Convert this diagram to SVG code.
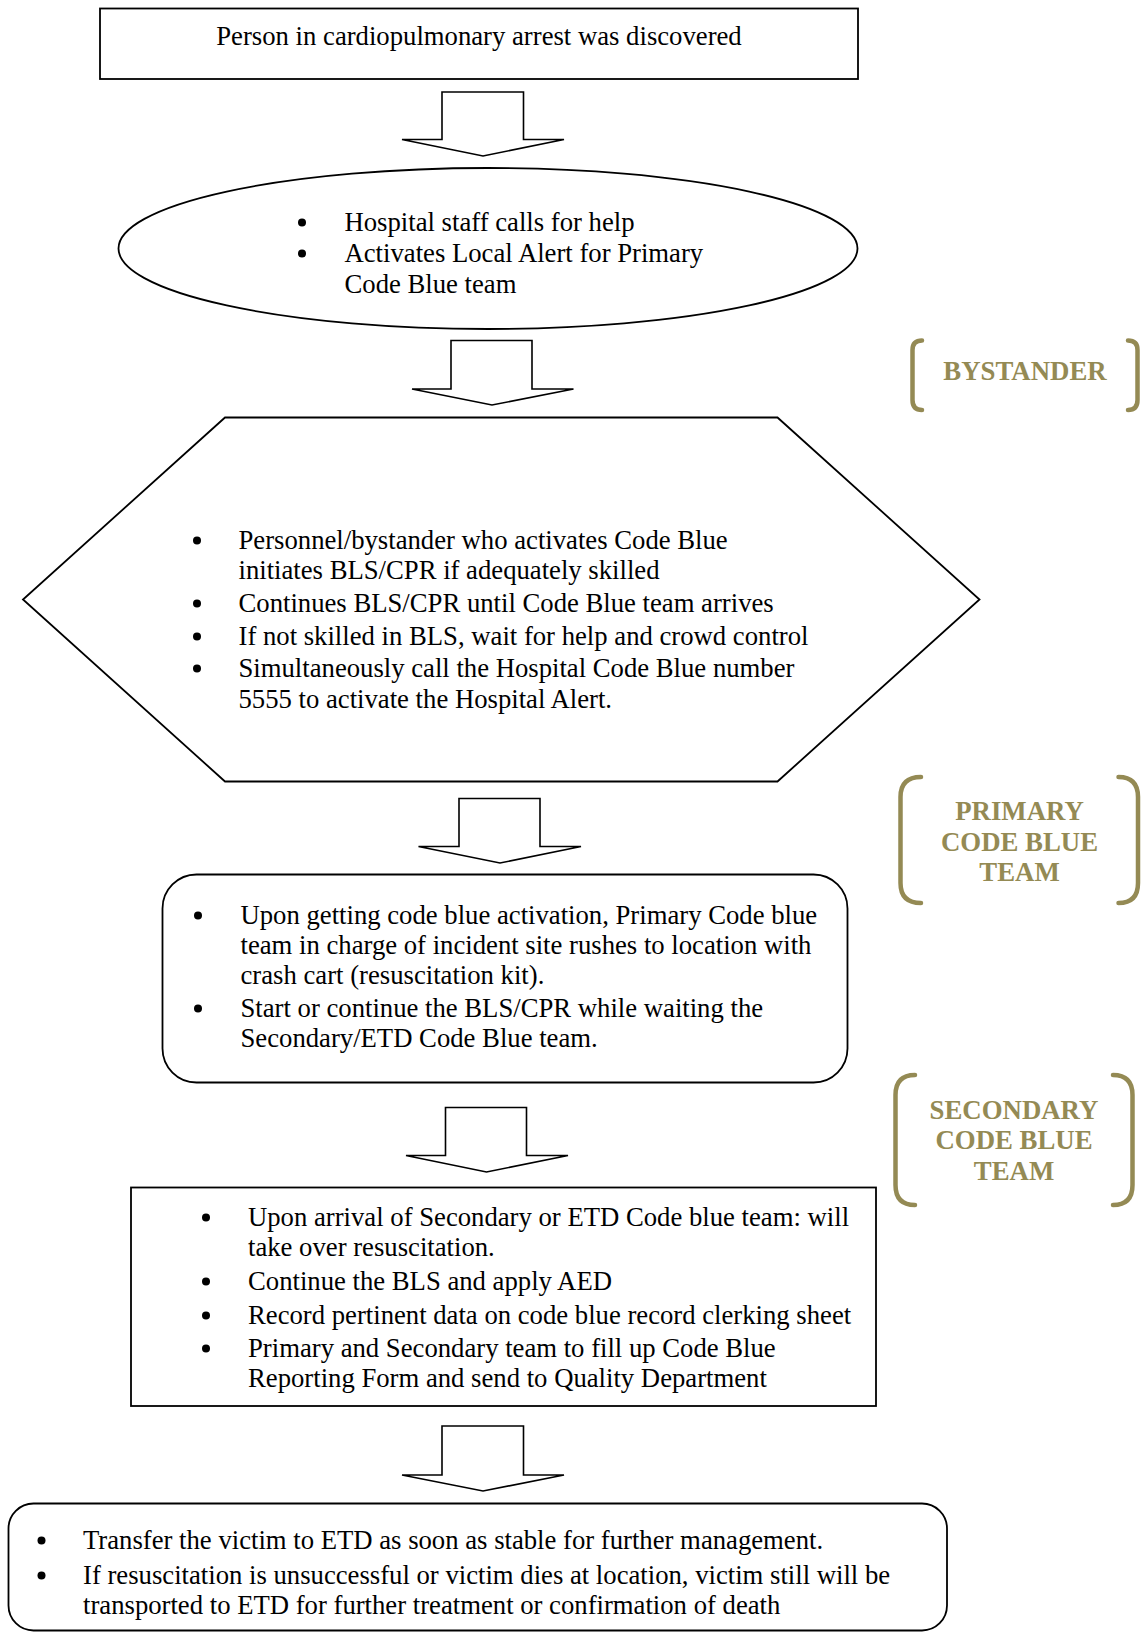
<svg xmlns="http://www.w3.org/2000/svg" width="1147" height="1632" viewBox="0 0 1147 1632">
  <style>
    .shape { fill: #ffffff; stroke: #000000; stroke-width: 1.8; }
    .arrow { fill: #ffffff; stroke: #000000; stroke-width: 1.6; stroke-linejoin: miter; }
    .txt { font-family: "Liberation Serif", "Times New Roman", serif; font-size: 26.7px; fill: #000000; }
    .dot { fill: #000000; }
    .bracket { fill: none; stroke: #948A54; stroke-width: 4.5; stroke-linecap: round; }
    .role { font-family: "Liberation Serif", "Times New Roman", serif; font-size: 26.8px; font-weight: bold; fill: #948A54; text-anchor: middle; }
  </style>

  <rect x="0" y="0" width="1147" height="1632" fill="#ffffff"/>

  <!-- block arrows between steps -->
  <g id="connectors">
    <polygon class="arrow" points="442,139.5 442,92 523.5,92 523.5,139.5 564,139.5 483,156 402,139.5"/>
    <polygon class="arrow" points="451,389 451,340.5 532,340.5 532,389 573.5,389 492,405 412,389"/>
    <polygon class="arrow" points="459,846.5 459,798.5 540,798.5 540,846.5 581,846.5 500,863 418.5,846.5"/>
    <polygon class="arrow" points="445.5,1155.5 445.5,1107.5 526.5,1107.5 526.5,1155.5 568,1155.5 486.5,1172 406,1155.5"/>
    <polygon class="arrow" points="442,1475 442,1426 523.5,1426 523.5,1475 564,1475 483,1491 402,1475"/>
  </g>

  <!-- step 1: discovery -->
  <g id="discovered">
    <rect class="shape" x="100" y="8.5" width="758" height="70.5"/>
    <text class="txt" x="479" y="45" text-anchor="middle">Person in cardiopulmonary arrest was discovered</text>
  </g>

  <!-- step 2: call for help -->
  <g id="call-help">
    <ellipse class="shape" cx="488" cy="248.5" rx="369.5" ry="80.5"/>
    <circle class="dot" cx="302" cy="222.5" r="4"/>
    <circle class="dot" cx="302" cy="253.5" r="4"/>
    <text class="txt" x="344.5" y="230.5">Hospital staff calls for help</text>
    <text class="txt" x="344.5" y="261.5">Activates Local Alert for Primary</text>
    <text class="txt" x="344.5" y="292.5">Code Blue team</text>
  </g>

  <!-- step 3: bystander actions -->
  <g id="bystander-actions">
    <polygon class="shape" points="225,417.5 777.5,417.5 979.5,599.5 777.5,781.5 225,781.5 23,599.5"/>
    <circle class="dot" cx="197" cy="540.5" r="4"/>
    <circle class="dot" cx="197" cy="603.5" r="4"/>
    <circle class="dot" cx="197" cy="636.5" r="4"/>
    <circle class="dot" cx="197" cy="668.5" r="4"/>
    <text class="txt" x="238.5" y="548.5">Personnel/bystander who activates Code Blue</text>
    <text class="txt" x="238.5" y="578.5">initiates BLS/CPR if adequately skilled</text>
    <text class="txt" x="238.5" y="611.5">Continues BLS/CPR until Code Blue team arrives</text>
    <text class="txt" x="238.5" y="644.5">If not skilled in BLS, wait for help and crowd control</text>
    <text class="txt" x="238.5" y="676.5">Simultaneously call the Hospital Code Blue number</text>
    <text class="txt" x="238.5" y="707.5">5555 to activate the Hospital Alert.</text>
  </g>

  <!-- step 4: primary team response -->
  <g id="primary-response">
    <rect class="shape" x="162.5" y="874.5" width="685" height="208" rx="34" ry="34"/>
    <circle class="dot" cx="198" cy="915.5" r="4"/>
    <circle class="dot" cx="198" cy="1008.5" r="4"/>
    <text class="txt" x="240.5" y="923.5">Upon getting code blue activation, Primary Code blue</text>
    <text class="txt" x="240.5" y="953.5">team in charge of incident site rushes to location with</text>
    <text class="txt" x="240.5" y="983.5">crash cart (resuscitation kit).</text>
    <text class="txt" x="240.5" y="1016.5">Start or continue the BLS/CPR while waiting the</text>
    <text class="txt" x="240.5" y="1046.5">Secondary/ETD Code Blue team.</text>
  </g>

  <!-- step 5: secondary team takes over -->
  <g id="secondary-response">
    <rect class="shape" x="131" y="1187.5" width="745" height="218.5"/>
    <circle class="dot" cx="206" cy="1217.5" r="4"/>
    <circle class="dot" cx="206" cy="1281.5" r="4"/>
    <circle class="dot" cx="206" cy="1315.5" r="4"/>
    <circle class="dot" cx="206" cy="1348.5" r="4"/>
    <text class="txt" x="248" y="1225.5">Upon arrival of Secondary or ETD Code blue team: will</text>
    <text class="txt" x="248" y="1255.5">take over resuscitation.</text>
    <text class="txt" x="248" y="1289.5">Continue the BLS and apply AED</text>
    <text class="txt" x="248" y="1323.5">Record pertinent data on code blue record clerking sheet</text>
    <text class="txt" x="248" y="1356.5">Primary and Secondary team to fill up Code Blue</text>
    <text class="txt" x="248" y="1386.5">Reporting Form and send to Quality Department</text>
  </g>

  <!-- step 6: transfer to ETD -->
  <g id="transfer">
    <rect class="shape" x="8.5" y="1503.5" width="938.5" height="127" rx="25" ry="25"/>
    <circle class="dot" cx="41.5" cy="1540.5" r="4"/>
    <circle class="dot" cx="41.5" cy="1575.5" r="4"/>
    <text class="txt" x="83" y="1548.5">Transfer the victim to ETD as soon as stable for further management.</text>
    <text class="txt" x="83" y="1583.5">If resuscitation is unsuccessful or victim dies at location, victim still will be</text>
    <text class="txt" x="83" y="1614">transported to ETD for further treatment or confirmation of death</text>
  </g>

  <!-- role labels in brackets -->
  <g id="role-bystander">
    <path class="bracket" d="M 922,340.5 Q 912.5,340.5 912.5,350 L 912.5,400 Q 912.5,410 922,410"/>
    <path class="bracket" d="M 1128,340.5 Q 1137.5,340.5 1137.5,350 L 1137.5,400 Q 1137.5,410 1128,410"/>
    <text class="role" x="1025" y="380">BYSTANDER</text>
  </g>

  <g id="role-primary">
    <path class="bracket" d="M 921,777 Q 900.5,777 900.5,797 L 900.5,883 Q 900.5,903 921,903"/>
    <path class="bracket" d="M 1118.5,777 Q 1138,777 1138,797 L 1138,883 Q 1138,903 1118.5,903"/>
    <text class="role" x="1019.5" y="820">PRIMARY</text>
    <text class="role" x="1019.5" y="850.5">CODE BLUE</text>
    <text class="role" x="1019.5" y="881">TEAM</text>
  </g>

  <g id="role-secondary">
    <path class="bracket" d="M 915,1075 Q 895.5,1075 895.5,1095 L 895.5,1185 Q 895.5,1205 915,1205"/>
    <path class="bracket" d="M 1113,1075 Q 1132.5,1075 1132.5,1095 L 1132.5,1185 Q 1132.5,1205 1113,1205"/>
    <text class="role" x="1014" y="1119">SECONDARY</text>
    <text class="role" x="1014" y="1149">CODE BLUE</text>
    <text class="role" x="1014" y="1180">TEAM</text>
  </g>
</svg>
